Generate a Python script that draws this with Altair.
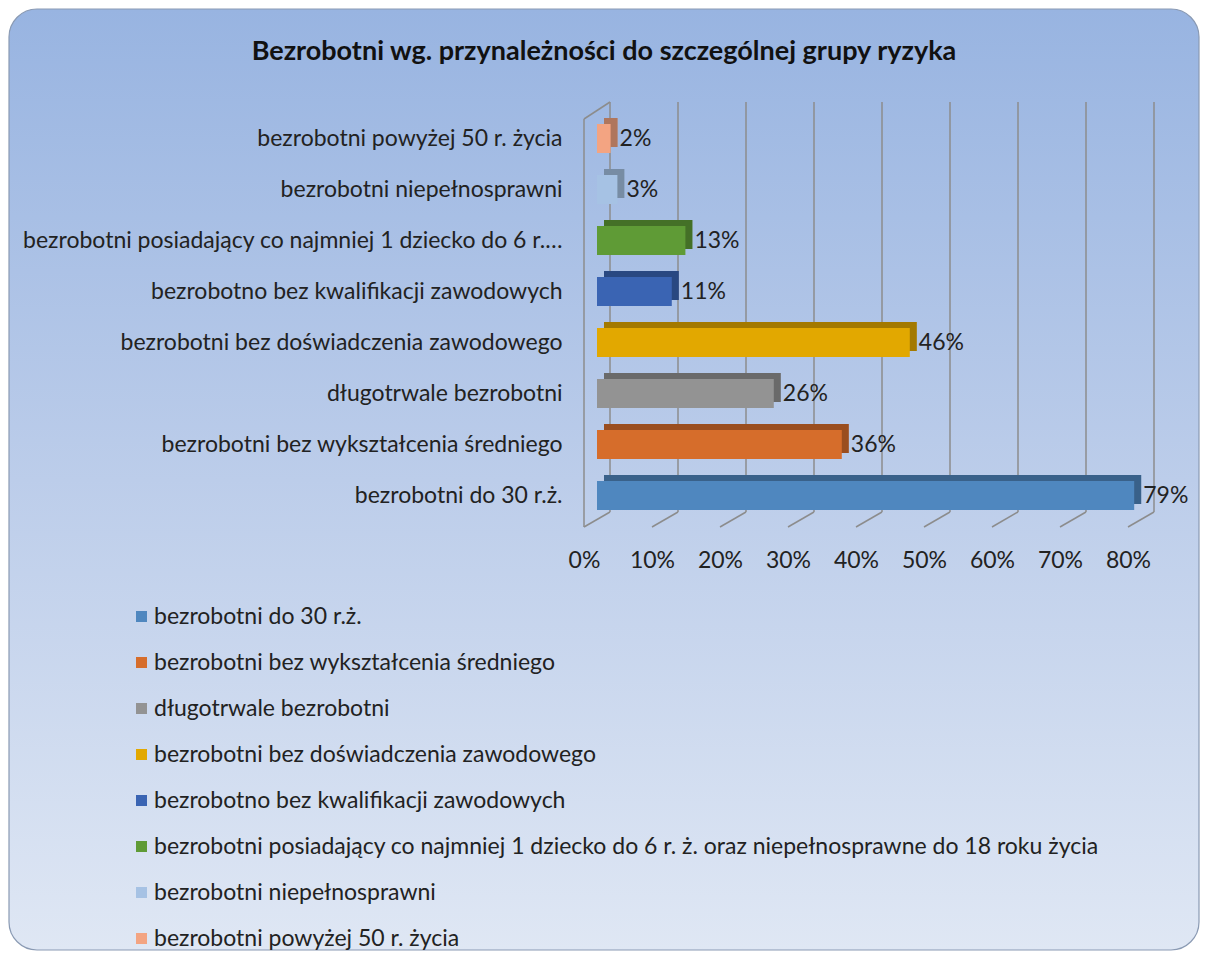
import altair as alt
import pandas as pd

# ---- data ----
categories = [
    "bezrobotni do 30 r.ż.",
    "bezrobotni bez wykształcenia średniego",
    "długotrwale bezrobotni",
    "bezrobotni bez doświadczenia zawodowego",
    "bezrobotno bez kwalifikacji zawodowych",
    "bezrobotni posiadający co najmniej 1 dziecko do 6 r. ż. oraz niepełnosprawne do 18 roku życia",
    "bezrobotni niepełnosprawni",
    "bezrobotni powyżej 50 r. życia",
]
axis_labels = [
    "bezrobotni do 30 r.ż.",
    "bezrobotni bez wykształcenia średniego",
    "długotrwale bezrobotni",
    "bezrobotni bez doświadczenia zawodowego",
    "bezrobotno bez kwalifikacji zawodowych",
    "bezrobotni posiadający co najmniej 1 dziecko do 6 r.…",
    "bezrobotni niepełnosprawni",
    "bezrobotni powyżej 50 r. życia",
]
values = [0.79, 0.36, 0.26, 0.46, 0.11, 0.13, 0.03, 0.02]
colors = ["#4f87bf", "#d66d2b", "#939393", "#e2a800", "#3a64b3", "#5f9b36", "#a6c2e4", "#f3a482"]
ticks = [0, 0.1, 0.2, 0.3, 0.4, 0.5, 0.6, 0.7, 0.8]

TITLE = "Bezrobotni wg. przynależności do szczególnej grupy ryzyka"
FONT = "Lato"
FS = 23

df = pd.DataFrame({"kat": categories, "val": values})
grid_df = pd.DataFrame({"t": ticks})
wall_df = pd.DataFrame({"t": [0.0]})

# ---- layout ----
W, H = 544, 408
PL, PT = 589, 106
TOTAL_W, TOTAL_H = 1192, 944
D = 13  # half depth of the 3D floor

y_order = list(reversed(categories))
yscale = alt.Scale(domain=y_order, paddingInner=0.43, paddingOuter=0.215)
xscale = alt.Scale(domain=[0, 0.8], nice=False)
cscale = alt.Scale(domain=categories, range=colors)

label_expr = " : ".join(
    [f"datum.label == '{c}' ? '{a}'" for c, a in zip(categories, axis_labels) if c != a]
) + " : datum.label"

XAXIS = alt.Axis(values=ticks, format=".0%", grid=False, domain=False, ticks=False,
                 labelFontSize=FS, labelFont=FONT, labelColor="#222222",
                 labelPadding=28, labelOffset=-D, title=None, labelFlush=False, zindex=1)
YAXIS = alt.Axis(title=None, domain=False, ticks=False, grid=False,
                 labelFontSize=FS, labelFont=FONT, labelColor="#222222",
                 labelPadding=35, labelLimit=700, labelExpr=label_expr, zindex=1)
LEGEND = alt.Legend(title=None, orient="none", legendX=-PL + 122, legendY=H - 16 + 100,
                    direction="vertical", symbolType="square", symbolSize=121,
                    symbolStrokeWidth=0, labelFontSize=FS, labelFont=FONT,
                    labelColor="#222222", labelLimit=1100, rowPadding=22,
                    labelOffset=1, zindex=1)

# background panel (defines the full canvas)
bg = alt.Chart(wall_df).mark_rect(
    cornerRadius=28,
    stroke="#8a9ab3",
    strokeWidth=1.2,
    fill=alt.Gradient(
        gradient="linear",
        stops=[alt.GradientStop(color="#98b4e1", offset=0),
               alt.GradientStop(color="#bccdea", offset=0.5),
               alt.GradientStop(color="#dfe7f4", offset=1)],
        x1=0, x2=0, y1=0, y2=1,
    ),
).encode(
    x=alt.value(-PL + 1), x2=alt.value(TOTAL_W - PL - 1),
    y=alt.value(-PT + 2), y2=alt.value(TOTAL_H - PT - 1),
)

title = alt.Chart(wall_df).mark_text(
    fontSize=27, font=FONT, fontWeight="bold", color="#111111", align="center", baseline="middle"
).encode(
    x=alt.value(596 - PL), y=alt.value(45 - PT), text=alt.value(TITLE),
)

GRID = dict(color="#8c8c8c", strokeWidth=1.5)

grid = alt.Chart(grid_df).mark_rule(xOffset=D, **GRID).encode(
    x=alt.X("t:Q", scale=xscale, axis=XAXIS),
    y=alt.value(-11), y2=alt.value(H - 9),
)
diag = alt.Chart(grid_df).mark_rule(xOffset=-D, x2Offset=D, **GRID).encode(
    x=alt.X("t:Q", scale=xscale, axis=XAXIS),
    x2="t:Q",
    y=alt.value(H + 6), y2=alt.value(H - 9),
)
wall_front = alt.Chart(wall_df).mark_rule(xOffset=-D, **GRID).encode(
    x=alt.X("t:Q", scale=xscale, axis=XAXIS),
    y=alt.value(6), y2=alt.value(H + 6),
)
wall_top = alt.Chart(wall_df).mark_rule(xOffset=-D, x2Offset=D, **GRID).encode(
    x=alt.X("t:Q", scale=xscale, axis=XAXIS),
    x2="t:Q",
    y=alt.value(6), y2=alt.value(-11),
)

back = alt.Chart(df).mark_bar(size=29, xOffset=7, yOffset=-6).encode(
    y=alt.Y("kat:N", scale=yscale, axis=YAXIS),
    x=alt.X("val:Q", scale=xscale, axis=XAXIS),
    color=alt.Color("kat:N", scale=cscale, legend=LEGEND),
)
back_shade = alt.Chart(df).mark_bar(size=29, color="black", opacity=0.28, xOffset=7, yOffset=-6).encode(
    y=alt.Y("kat:N", scale=yscale, axis=YAXIS),
    x=alt.X("val:Q", scale=xscale, axis=XAXIS),
)
front = alt.Chart(df).mark_bar(size=29).encode(
    y=alt.Y("kat:N", scale=yscale, axis=YAXIS),
    x=alt.X("val:Q", scale=xscale, axis=XAXIS),
    color=alt.Color("kat:N", scale=cscale, legend=LEGEND),
)
labels = alt.Chart(df).mark_text(align="left", baseline="middle", dx=9, fontSize=FS,
                                 font=FONT, color="#222222").encode(
    y=alt.Y("kat:N", scale=yscale, axis=YAXIS),
    x=alt.X("val:Q", scale=xscale, axis=XAXIS),
    text=alt.Text("val:Q", format=".0%"),
)

chart = alt.layer(bg, title, grid, diag, wall_front, wall_top, back, back_shade, front, labels).properties(
    width=W, height=H,
    padding=0,
    background="white",
).configure_view(stroke=None)

chart.save("out.html", embed_options={"renderer": "svg", "actions": False})
